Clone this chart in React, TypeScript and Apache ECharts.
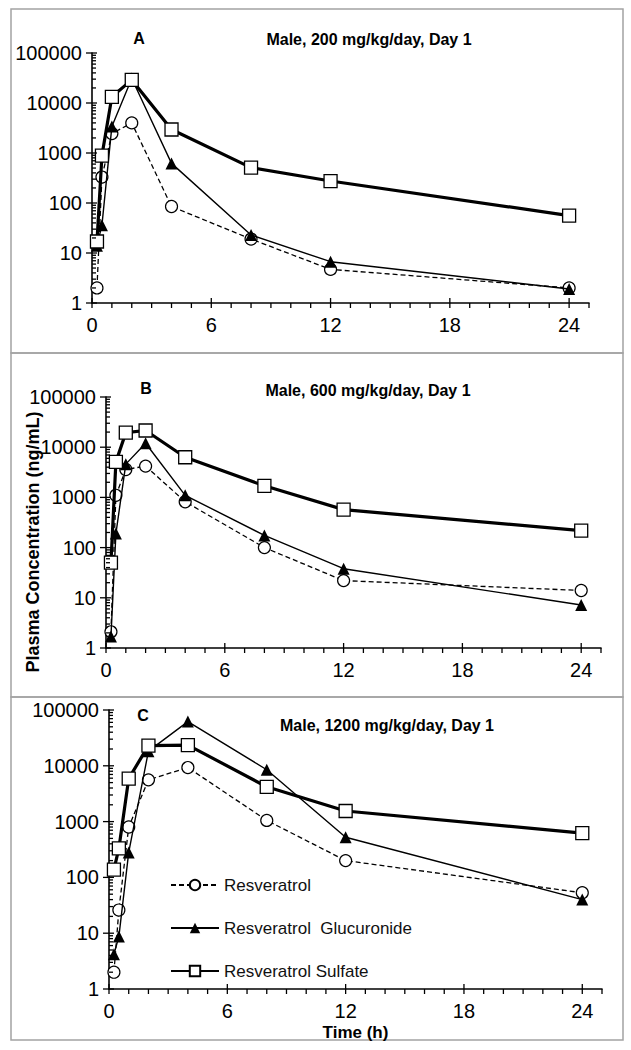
import React, { useEffect, useRef } from "react";
import * as echarts from "echarts";

// ---- data ----
const TIMES = [0.25, 0.5, 1, 2, 4, 8, 12, 24];

const A_RES = [2, 330, 2450, 4000, 85, 19, 4.7, 2];
const A_GLU = [14, 36, 3400, 31000, 620, 23, 6.7, 1.9];
const A_SUL = [17, 890, 13300, 29000, 2950, 510, 275, 56];

const B_RES = [2.1, 1100, 3600, 4200, 820, 100, 22, 14];
const B_GLU = [1.7, 190, 4600, 12000, 1100, 175, 38, 7.2];
const B_SUL = [50, 5100, 19500, 21500, 6300, 1700, 570, 218];

const C_RES = [2, 26, 800, 5600, 9300, 1050, 200, 53];
const C_GLU = [4.2, 8.7, 280, 18300, 62000, 8500, 525, 40];
const C_SUL = [138, 330, 5900, 23000, 23500, 4200, 1550, 620];

const SERIES_NAMES = ["Resveratrol", "Resveratrol  Glucuronide", "Resveratrol Sulfate"];
const PANEL_LETTERS = ["A", "B", "C"];
const PANEL_TITLES = [
  "Male, 200 mg/kg/day, Day 1",
  "Male, 600 mg/kg/day, Day 1",
  "Male, 1200 mg/kg/day, Day 1",
];
const X_LABELS = [0, 6, 12, 18, 24];
const X_MINOR = [1, 2, 3, 4, 5, 7, 8, 9, 10, 11, 13, 14, 15, 16, 17, 19, 20, 21, 22, 23, 25];
const Y_LABELS = [1, 10, 100, 1000, 10000, 100000];
const Y_MINOR_MULT = [2, 3, 4, 5, 6, 7, 8, 9];
const Y_TITLE = "Plasma Concentration (ng/mL)";
const X_TITLE = "Time (h)";

const PANEL_DATA = [
  [A_RES, A_GLU, A_SUL],
  [B_RES, B_GLU, B_SUL],
  [C_RES, C_GLU, C_SUL],
];

// ---- layout ----
const FONT = "'Liberation Sans', Arial, Helvetica, sans-serif";
const GRIDS = [
  { left: 92, top: 53, width: 497, height: 250 },
  { left: 106, top: 397, width: 495, height: 251 },
  { left: 109, top: 710, width: 493, height: 279 },
];
const FRAMES = [
  { x: 11, y: 9, w: 612, h: 344 },
  { x: 11, y: 353, w: 612, h: 344 },
  { x: 11, y: 697, w: 612, h: 343 },
];
const LETTER_POS = [
  [139, 38],
  [146, 388],
  [143, 715],
];
const TITLE_POS = [
  [369, 39],
  [368, 390],
  [387, 725],
];

function buildOption() {
  const tickData: number[][] = [];
  X_LABELS.forEach((v) => tickData.push([v, 1, 1]));
  X_MINOR.forEach((v) => tickData.push([v, 1, 2]));
  Y_LABELS.forEach((v) => tickData.push([0, v, 3]));
  Y_LABELS.slice(0, 5).forEach((d) =>
    Y_MINOR_MULT.forEach((m) => tickData.push([0, d * m, 4]))
  );

  const series: any[] = [];
  PANEL_DATA.forEach((panel, i) => {
    const [res, glu, sul] = panel;
    series.push({
      name: SERIES_NAMES[0],
      type: "line",
      xAxisIndex: i,
      yAxisIndex: i,
      data: TIMES.map((t, j) => [t, res[j]]),
      symbol: "circle",
      symbolSize: 12,
      showAllSymbol: true,
      lineStyle: { color: "#000", width: 1.3, type: [5, 3] },
      itemStyle: { color: "#fff", borderColor: "#000", borderWidth: 1.2 },
      z: 2,
    });
    series.push({
      name: SERIES_NAMES[1],
      type: "line",
      xAxisIndex: i,
      yAxisIndex: i,
      data: TIMES.map((t, j) => [t, glu[j]]),
      symbol: "triangle",
      symbolSize: 12,
      lineStyle: { color: "#000", width: 1.4, type: "solid" },
      itemStyle: { color: "#000", borderColor: "#000", borderWidth: 0 },
      z: 3,
    });
    series.push({
      name: SERIES_NAMES[2],
      type: "line",
      xAxisIndex: i,
      yAxisIndex: i,
      data: TIMES.map((t, j) => [t, sul[j]]),
      symbol: "rect",
      symbolSize: 13,
      lineStyle: { color: "#000", width: 3.2, type: "solid" },
      itemStyle: { color: "#fff", borderColor: "#000", borderWidth: 1.3 },
      z: 4,
    });
    series.push({
      type: "custom",
      xAxisIndex: i,
      yAxisIndex: i,
      silent: true,
      clip: false,
      z: 6,
      data: tickData,
      renderItem: (params: any, api: any) => {
        const k = api.value(2);
        const p = api.coord([api.value(0), api.value(1)]);
        let shape;
        if (k === 1) shape = { x1: p[0], y1: p[1] - 5, x2: p[0], y2: p[1] + 5 };
        else if (k === 2) shape = { x1: p[0], y1: p[1], x2: p[0], y2: p[1] + 5 };
        else if (k === 3) shape = { x1: p[0] - 6, y1: p[1], x2: p[0] + 5, y2: p[1] };
        else shape = { x1: p[0], y1: p[1], x2: p[0] + 4, y2: p[1] };
        return { type: "line", shape, style: { stroke: "#000", lineWidth: 1.3 } };
      },
    });
  });

  const xAxis = GRIDS.map((_, i) => ({
    gridIndex: i,
    type: "value",
    min: 0,
    max: 25,
    interval: 6,
    axisLine: { show: true, onZero: false, lineStyle: { color: "#000", width: 1.6 } },
    axisTick: { show: false },
    splitLine: { show: false },
    axisLabel: {
      fontFamily: FONT,
      fontSize: 20,
      color: "#000",
      margin: 12,
      showMaxLabel: false,
      formatter: (v: number) => (X_LABELS.indexOf(v) >= 0 ? String(v) : ""),
    },
    ...(i === 2
      ? {
          name: X_TITLE,
          nameLocation: "middle",
          nameGap: 35,
          nameTextStyle: { fontFamily: FONT, fontSize: 17, fontWeight: "bold", color: "#000" },
        }
      : {}),
  }));

  const yAxis = GRIDS.map((_, i) => ({
    gridIndex: i,
    type: "log",
    logBase: 10,
    min: 1,
    max: 100000,
    splitNumber: 5,
    axisLine: { show: true, onZero: false, lineStyle: { color: "#000", width: 1.6 } },
    axisTick: { show: false },
    splitLine: { show: false },
    axisLabel: {
      fontFamily: FONT,
      fontSize: 20,
      color: "#000",
      margin: 10,
      formatter: (v: number) => String(Math.round(v)),
    },
  }));

  const graphic: any[] = [];
  FRAMES.forEach((f) =>
    graphic.push({
      type: "rect",
      shape: { x: f.x, y: f.y, width: f.w, height: f.h },
      style: { fill: "none", stroke: "#a3a3a3", lineWidth: 1.5 },
      silent: true,
      z: 0,
    })
  );
  PANEL_LETTERS.forEach((l, i) =>
    graphic.push({
      type: "text",
      x: LETTER_POS[i][0],
      y: LETTER_POS[i][1],
      style: {
        text: l,
        font: `bold 16px ${FONT}`,
        fill: "#000",
        align: "center",
        verticalAlign: "middle",
      },
    })
  );
  PANEL_TITLES.forEach((t, i) =>
    graphic.push({
      type: "text",
      x: TITLE_POS[i][0],
      y: TITLE_POS[i][1],
      style: {
        text: t,
        font: `bold 16px ${FONT}`,
        fill: "#000",
        align: "center",
        verticalAlign: "middle",
      },
    })
  );
  graphic.push({
    type: "text",
    x: 33,
    y: 542,
    rotation: Math.PI / 2,
    style: {
      text: Y_TITLE,
      font: `bold 18px ${FONT}`,
      fill: "#000",
      align: "center",
      verticalAlign: "middle",
    },
  });

  return {
    animation: false,
    backgroundColor: "#fff",
    grid: GRIDS.map((g) => ({ ...g, containLabel: false })),
    xAxis,
    yAxis,
    legend: {
      data: SERIES_NAMES,
      orient: "vertical",
      left: 170,
      top: 876.5,
      padding: 0,
      itemWidth: 48,
      itemHeight: 13,
      itemGap: 26,
      selectedMode: false,
      textStyle: { fontFamily: FONT, fontSize: 17, color: "#111", lineHeight: 13 },
    },
    series,
    graphic,
  };
}

export default function App() {
  const ref = useRef<HTMLDivElement>(null);
  useEffect(() => {
    if (!ref.current) return;
    const chart = echarts.init(ref.current, undefined, { renderer: "svg" });
    chart.setOption(buildOption() as any);
    return () => chart.dispose();
  }, []);
  return (
    <div
      ref={ref}
      style={{ position: "absolute", left: 0, top: 0, width: 631, height: 1050, background: "#fff" }}
    />
  );
}
